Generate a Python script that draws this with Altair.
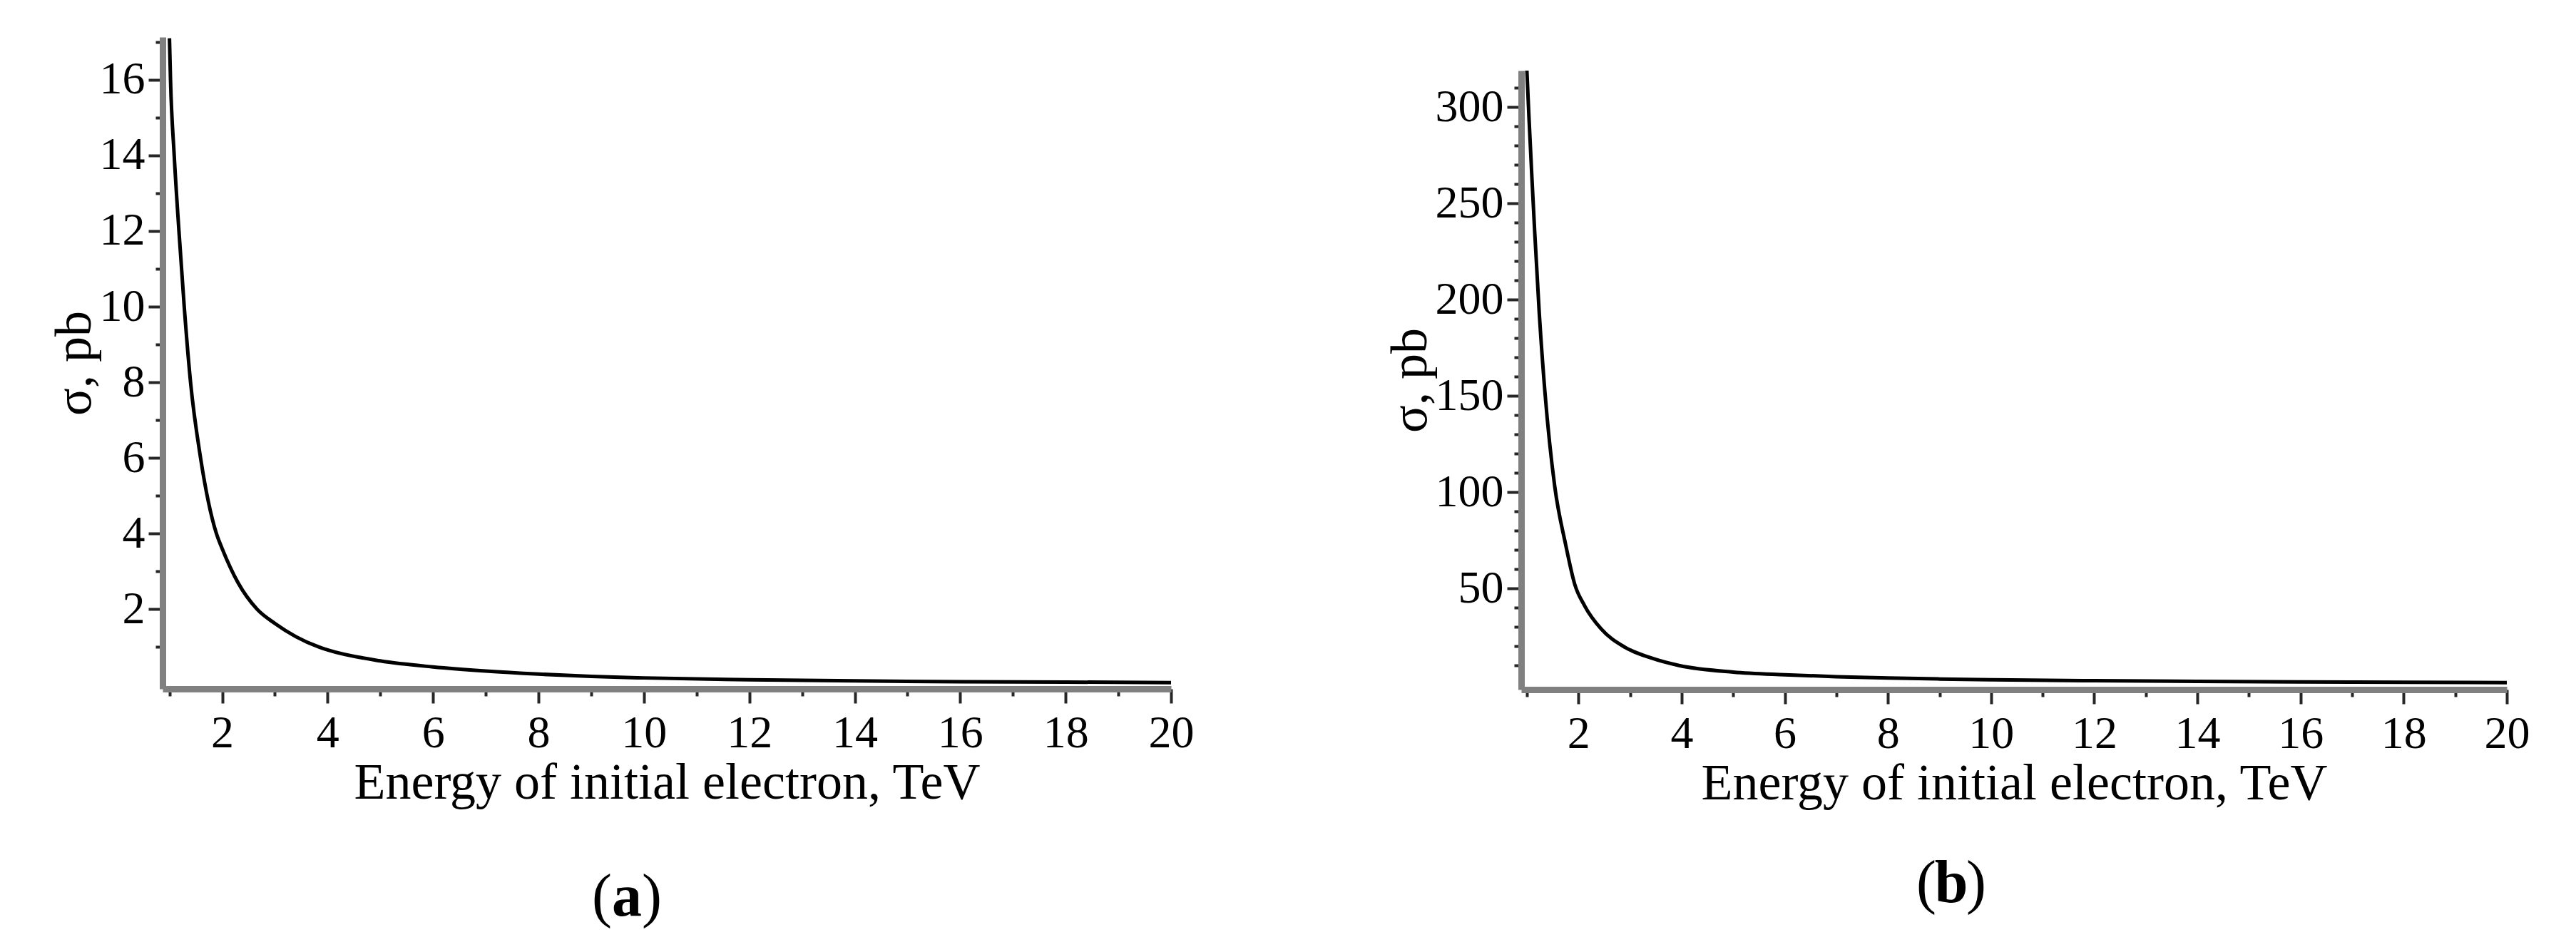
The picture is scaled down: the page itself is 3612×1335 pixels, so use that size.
import altair as alt
import pandas as pd

# ---------------- data ----------------
# panel (a)
energy_a = [1.0, 1.02, 1.09, 1.18, 1.28, 1.40, 1.59, 1.89, 2.0, 2.3, 2.66, 3.0, 3.4,
            3.83, 4.0, 5.0, 6.0, 7.0, 8.0, 9.0, 10.0, 12.0, 14.0, 16.0, 18.0, 20.0]
sigma_a = [17.1, 16.0, 14.0, 12.0, 10.0, 8.0, 6.0, 4.0, 3.6, 2.7, 2.0, 1.62, 1.27,
           1.0, 0.92, 0.63, 0.47, 0.36, 0.28, 0.22, 0.18, 0.13, 0.10, 0.08, 0.07, 0.055]

# panel (b)
energy_b = [1.0, 1.04, 1.1, 1.15, 1.24, 1.35, 1.54, 1.75, 1.93, 2.12, 2.44, 2.9, 3.4,
            3.95, 5.0, 6.0, 7.0, 8.0, 9.0, 10.0, 12.0, 14.0, 16.0, 18.0, 20.0]
sigma_b = [319, 295, 262, 236, 193, 152, 103, 73, 52, 41, 29, 19.5, 14,
           10, 6.6, 5.2, 4.2, 3.5, 3.0, 2.6, 2.1, 1.75, 1.5, 1.3, 1.15]

# ticks
x_ticks = list(range(1, 21))
y_ticks_a = list(range(1, 18))
y_ticks_b = list(range(10, 320, 10))

x_title = "Energy of initial electron, TeV"
y_title = "σ, pb"
caption_letters = ["a", "b"]

FONT = "Liberation Serif"


def make_axis(values, major, title, label_pad, title_pad):
    test = f"datum.value % {major} === 0"
    return alt.Axis(
        values=values,
        title=title,
        labelExpr=f"{test} ? datum.label : ''",
        tickSize={"condition": {"test": test, "value": 20}, "value": 10},
        tickWidth=4,
        tickColor="#262626",
        domainColor="#808080",
        domainWidth=9,
        labelFont=FONT,
        labelFontSize=64,
        labelColor="black",
        labelPadding=label_pad,
        labelFlush=False,
        labelOverlap=False,
        titleFont=FONT,
        titleFontSize=72,
        titleFontWeight="normal",
        titleColor="black",
        titlePadding=title_pad,
        grid=False,
    )


def caption_layers(letter, cx, cy):
    half = 21
    base = dict(font=FONT, fontSize=84, color="black", baseline="alphabetic")
    left = alt.Chart(pd.DataFrame({"t": ["("]})).mark_text(align="right", **base).encode(
        text="t:N", x=alt.value(cx - half), y=alt.value(cy))
    mid = alt.Chart(pd.DataFrame({"t": [letter]})).mark_text(align="center", fontWeight="bold", **base).encode(
        text="t:N", x=alt.value(cx), y=alt.value(cy))
    right = alt.Chart(pd.DataFrame({"t": [")"]})).mark_text(align="left", **base).encode(
        text="t:N", x=alt.value(cx + half), y=alt.value(cy))
    return [left, mid, right]


def panel(energy, sigma, xdom, ydom, yticks, ymajor, w, h, letter, cx, cy):
    df = pd.DataFrame({"E": energy, "s": sigma})
    line = alt.Chart(df).mark_line(color="black", strokeWidth=5, interpolate="monotone").encode(
        x=alt.X("E:Q", scale=alt.Scale(domain=xdom, zero=False, nice=False),
                axis=make_axis(x_ticks, 2, x_title, 10, 2)),
        y=alt.Y("s:Q", scale=alt.Scale(domain=ydom, zero=False, nice=False),
                axis=make_axis(yticks, ymajor, y_title, 5, -2)),
    )
    return alt.layer(line, *caption_layers(letter, cx, cy)).properties(width=w, height=h)


panel_a = panel(energy_a, sigma_a, [0.87, 20], [-0.11, 17.13], y_ticks_a, 2,
                1414, 914, caption_letters[0], 651, 1232)

panel_b = panel(energy_b, sigma_b, [0.89, 20], [-2.5, 319], y_ticks_b, 50,
                1382, 868, caption_letters[1], 603, 1166)

# small empty block that lowers panel (b) relative to panel (a)
spacer = alt.Chart(pd.DataFrame({"t": [""]})).mark_text().encode(
    text="t:N", x=alt.value(0), y=alt.value(0)
).properties(width=1, height=1)

chart = alt.hconcat(
    panel_a,
    alt.vconcat(spacer, panel_b, spacing=32),
    spacing=267,
).properties(
    padding={"left": 60, "top": 18, "right": 5, "bottom": 5}
).configure_view(stroke=None)

chart.save("out.html", embed_options={"renderer": "svg", "actions": False})
